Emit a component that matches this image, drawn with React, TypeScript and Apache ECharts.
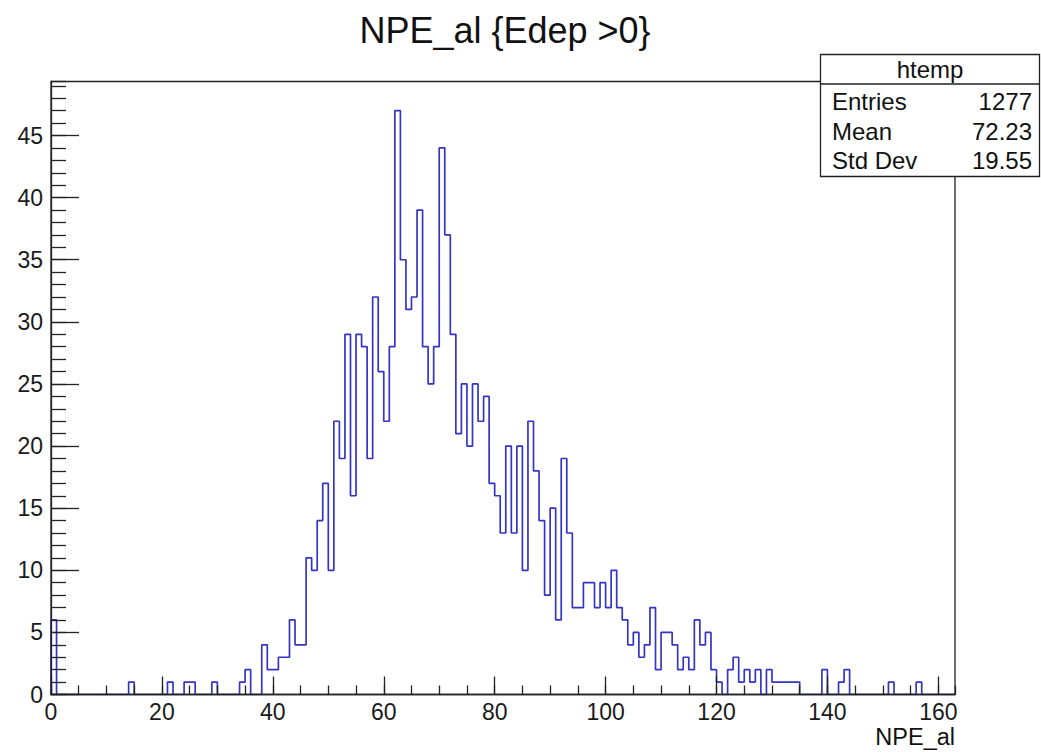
import React, { useEffect, useRef } from "react";
import * as echarts from "echarts";

// Histogram binning (ROOT htemp)
const binLow = 0;
const binWidth = 1;
const xMin = 0;
const xMax = 163;
const yMax = 49.35;

// Bin contents for bins [0,1), [1,2), ... [162,163)
const counts = [
  6, 0, 0, 0, 0, 0, 0, 0, 0, 0,
  0, 0, 0, 0, 1, 0, 0, 0, 0, 0,
  0, 1, 0, 0, 1, 1, 0, 0, 0, 1,
  0, 0, 0, 0, 1, 2, 0, 0, 4, 2,
  2, 3, 3, 6, 4, 4, 11, 10, 14, 17,
  10, 22, 19, 29, 16, 29, 28, 19, 32, 26,
  22, 28, 47, 35, 31, 32, 39, 28, 25, 28,
  44, 37, 29, 21, 25, 20, 25, 22, 24, 17,
  16, 13, 20, 13, 20, 10, 22, 18, 14, 8,
  15, 6, 19, 13, 7, 7, 9, 9, 7, 9,
  7, 10, 7, 6, 4, 5, 3, 4, 7, 2,
  5, 5, 4, 2, 3, 2, 6, 4, 5, 2,
  1, 0, 2, 3, 1, 2, 1, 2, 0, 2,
  1, 1, 1, 1, 1, 0, 0, 0, 0, 2,
  0, 0, 1, 2, 0, 0, 0, 0, 0, 0,
  0, 1, 0, 0, 0, 0, 1, 0, 0, 0,
  0, 0, 0,
];

const titleText = "NPE_al {Edep >0}";
const xAxisTitle = "NPE_al";
const statsName = "htemp";
const statLabels = ["Entries", "Mean", "Std Dev"];
const statValues = ["1277", "72.23", "19.55"];

const FONT = '"Liberation Sans", Arial, Helvetica, sans-serif';

export default function App() {
  const ref = useRef<HTMLDivElement>(null);

  useEffect(() => {
    document.body.style.margin = "0";
    if (!ref.current) return;
    const chart = echarts.init(ref.current, undefined, { renderer: "svg" });

    const pts: number[][] = [[binLow, 0]];
    counts.forEach((c, i) => pts.push([binLow + i * binWidth, c]));
    const end = binLow + counts.length * binWidth;
    pts.push([end, counts[counts.length - 1]]);
    pts.push([end, 0]);

    const rect = { left: 51, right: 86, top: 81.5, bottom: 57.5 };
    const axisColor = "#222";
    const tickStyle = { color: axisColor, width: 1.3 };
    const labelStyle = {
      fontFamily: FONT,
      fontSize: 23,
      color: "#1a1a1a",
    };

    const rowY = [101.8, 131.2, 160.8];

    chart.setOption({
      animation: false,
      grid: [
        { ...rect, show: true, borderColor: axisColor, borderWidth: 1.3, backgroundColor: "transparent", containLabel: false },
        { ...rect, show: false, containLabel: false },
      ],
      xAxis: [
        {
          gridIndex: 0,
          type: "value",
          min: xMin,
          max: xMax,
          interval: 20,
          z: 3,
          axisLine: { show: true, onZero: false, lineStyle: tickStyle },
          axisTick: { show: true, inside: true, length: 18, lineStyle: tickStyle },
          axisLabel: { ...labelStyle, margin: 6, showMaxLabel: false },
          splitLine: { show: false },
        },
        {
          gridIndex: 1,
          type: "value",
          min: xMin,
          max: xMax,
          interval: 5,
          z: 3,
          axisLine: { show: false, onZero: false },
          axisTick: { show: true, inside: true, length: 9, lineStyle: tickStyle },
          axisLabel: { show: false },
          splitLine: { show: false },
        },
      ],
      yAxis: [
        {
          gridIndex: 0,
          type: "value",
          min: 0,
          max: yMax,
          interval: 5,
          z: 3,
          axisLine: { show: true, onZero: false, lineStyle: tickStyle },
          axisTick: { show: true, inside: true, length: 28, lineStyle: tickStyle },
          axisLabel: { ...labelStyle, margin: 8, showMaxLabel: false },
          splitLine: { show: false },
        },
        {
          gridIndex: 1,
          type: "value",
          min: 0,
          max: yMax,
          interval: 1,
          z: 3,
          axisLine: { show: false, onZero: false },
          axisTick: { show: true, inside: true, length: 15, lineStyle: tickStyle },
          axisLabel: { show: false },
          splitLine: { show: false },
        },
      ],
      series: [
        {
          type: "line",
          xAxisIndex: 0,
          yAxisIndex: 0,
          step: "end",
          data: pts,
          symbol: "none",
          showSymbol: false,
          clip: true,
          z: 2,
          lineStyle: { color: "#3535c4", width: 1.7 },
        },
      ],
      graphic: [
        {
          type: "text",
          x: 505,
          y: 30,
          style: { text: titleText, font: `36px ${FONT}`, fill: "#111", align: "center", verticalAlign: "middle" },
        },
        {
          type: "text",
          x: 955,
          y: 737,
          style: { text: xAxisTitle, font: `23.5px ${FONT}`, fill: "#111", align: "right", verticalAlign: "middle" },
        },
        {
          type: "group",
          z: 100,
          children: [
            {
              type: "rect",
              z: 100,
              shape: { x: 820.5, y: 54.5, width: 219, height: 122 },
              style: { fill: "#fff", stroke: axisColor, lineWidth: 1.3 },
            },
            {
              type: "line",
              z: 101,
              shape: { x1: 820.5, y1: 84, x2: 1039.5, y2: 84 },
              style: { stroke: axisColor, lineWidth: 1.3 },
            },
            {
              type: "text",
              z: 101,
              x: 930,
              y: 69,
              style: { text: statsName, font: `24px ${FONT}`, fill: "#111", align: "center", verticalAlign: "middle" },
            },
            ...statLabels.map((t, i) => ({
              type: "text",
              z: 101,
              x: 832,
              y: rowY[i],
              style: { text: t, font: `24px ${FONT}`, fill: "#111", align: "left", verticalAlign: "middle" },
            })),
            ...statValues.map((t, i) => ({
              type: "text",
              z: 101,
              x: 1032,
              y: rowY[i],
              style: { text: t, font: `24px ${FONT}`, fill: "#111", align: "right", verticalAlign: "middle" },
            })),
          ],
        },
      ],
    });

    return () => {
      chart.dispose();
    };
  }, []);

  return <div ref={ref} style={{ width: 1041, height: 752 }} />;
}
